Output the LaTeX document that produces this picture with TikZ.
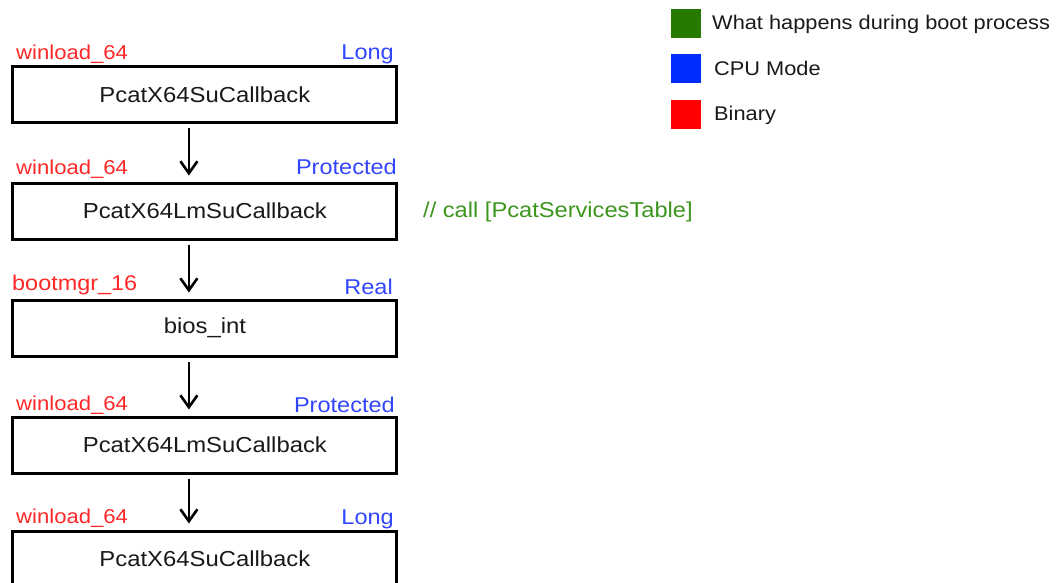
\documentclass[tikz,border=0pt]{standalone}
\usepackage{fontspec}
\setmainfont{Liberation Sans}[FakeStretch=1.1]
\usetikzlibrary{arrows.meta}
\definecolor{binred}{RGB}{255,40,40}
\definecolor{modeblue}{RGB}{50,70,255}
\definecolor{notegreen}{RGB}{60,150,30}
\definecolor{leggreen}{RGB}{38,122,0}
\definecolor{legblue}{RGB}{0,45,255}
\definecolor{legred}{RGB}{255,0,0}
\tikzset{
  fnbox/.style={draw=black, line width=3pt, minimum width=384pt, minimum height=56pt, inner sep=0pt, text=black!90, font=\fontsize{21.7}{26}\selectfont},
  binlbl/.style={anchor=base west, inner sep=0pt, text=binred, font=\fontsize{20.1}{25}\selectfont},
  modelbl/.style={anchor=base east, inner sep=0pt, text=modeblue, font=\fontsize{21.4}{25}\selectfont},
  flow/.style={draw=black, line width=2.6pt, -{Straight Barb[length=12pt,width=17pt,line width=2.6pt]}},
  legsq/.style={minimum width=30pt, minimum height=29pt, inner sep=0pt, anchor=north west},
  legtxt/.style={anchor=base west, inner sep=0pt, text=black!90, font=\fontsize{19.8}{24}\selectfont},
}
\begin{document}
\begin{tikzpicture}[x=1pt,y=-1pt]
\useasboundingbox (0,0) rectangle (1060,583);
% boxes
\node[fnbox] (b1) at (204.9,95) {PcatX64SuCallback};
\node[fnbox] (b2) at (204.9,211) {PcatX64LmSuCallback};
\node[fnbox] (b3) at (204.9,328) {bios\_int};
\node[fnbox] (b4) at (204.9,445) {PcatX64LmSuCallback};
\node[fnbox] (b5) at (204.9,559) {PcatX64SuCallback};
% binary labels
\node[binlbl] (r1) at (16,60) {winload\_64};
\node[binlbl] (r2) at (16,175) {winload\_64};
\node[binlbl, font=\fontsize{21.3}{25}\selectfont] (r3) at (12,290) {bootmgr\_16};
\node[binlbl] (r4) at (16,410) {winload\_64};
\node[binlbl] (r5) at (16,523) {winload\_64};
% mode labels
\node[modelbl] (m1) at (394,60) {Long};
\node[modelbl] (m2) at (397,174) {Protected};
\node[modelbl] (m3) at (393,294) {Real};
\node[modelbl] (m4) at (395,412) {Protected};
\node[modelbl] (m5) at (394,524) {Long};
% arrows
\draw[flow] ([xshift=-16pt,yshift=-4pt]b1.south) -- ([xshift=-16pt,yshift=6pt]b2.north);
\draw[flow] ([xshift=-16pt,yshift=-4pt]b2.south) -- ([xshift=-16pt,yshift=6pt]b3.north);
\draw[flow] ([xshift=-16pt,yshift=-4pt]b3.south) -- ([xshift=-16pt,yshift=6pt]b4.north);
\draw[flow] ([xshift=-16pt,yshift=-4pt]b4.south) -- ([xshift=-16pt,yshift=6pt]b5.north);
% note
\node[anchor=base west, inner sep=0pt, text=notegreen, font=\fontsize{21.5}{26}\selectfont] (note) at (423,217) {// call [PcatServicesTable]};
% legend
\node[legsq, fill=leggreen] (sq1) at (671,9) {};
\node[legsq, fill=legblue] (sq2) at (671,54) {};
\node[legsq, fill=legred] (sq3) at (671,100) {};
\node[legtxt] (t1) at (712,29.5) {What happens during boot process};
\node[legtxt] (t2) at (714,76) {CPU Mode};
\node[legtxt] (t3) at (714,121) {Binary};
\end{tikzpicture}
\end{document}
